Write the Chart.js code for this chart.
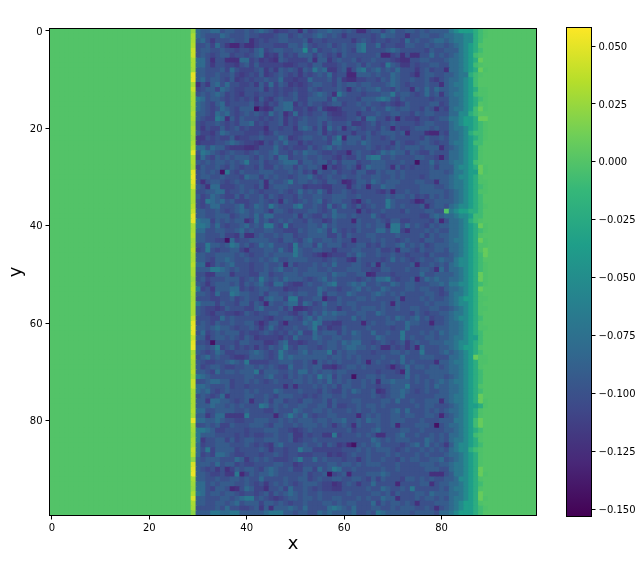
<!DOCTYPE html>
<html>
<head>
<meta charset="utf-8">
<title>heatmap</title>
<script src="https://cdn.jsdelivr.net/npm/chart.js@4"></script>
<style>
  body { margin: 0; background: #fff; }
  canvas { position: absolute; top: 0; }
  #heat { left: 0; }
  #bar { left: 560px; }
</style>
</head>
<body>
<canvas id="heat" width="560" height="561"></canvas>
<canvas id="bar" width="81" height="561"></canvas>
<script>
// tick labels
const xTicks = [0, 20, 40, 60, 80];
const yTicks = [0, 20, 40, 60, 80];
const barTicks = [-0.15, -0.125, -0.1, -0.075, -0.05, -0.025, 0, 0.025, 0.05];

// colour scale range and viridis stops
const vMin = -0.1532;
const vMax = 0.058;
const viridis = ["#440154", "#482878", "#3e4989", "#31688e", "#26828e", "#1f9e89", "#35b779", "#6ece58", "#b5de2b", "#fde725"];

// what each letter in the row strings below stands for
const levels = {
  "0": -0.143, "1": -0.13, "2": -0.123, "3": -0.116, "4": -0.109, "5": -0.101,
  "6": -0.092, "7": -0.081, "8": -0.069, "9": -0.053, a: -0.036, b: -0.022,
  c: -0.008, d: -0.002, e: 0, f: 0.008,
};

// column x=29, the bright stripe
const stripe = [
  0.022, 0.03, 0.03, 0.033, 0.04, 0.04, 0.03, 0.03, 0.028, 0.05,
  0.05, 0.03, 0.04, 0.03, 0.03, 0.03, 0.028, 0.033, 0.03, 0.025,
  0.03, 0.028, 0.025, 0.03, 0.035, 0.05, 0.03, 0.033, 0.03, 0.05,
  0.052, 0.05, 0.045, 0.03, 0.03, 0.03, 0.035, 0.04, 0.05, 0.05,
  0.03, 0.03, 0.033, 0.028, 0.03, 0.035, 0.03, 0.03, 0.035, 0.03,
  0.03, 0.025, 0.03, 0.033, 0.03, 0.028, 0.03, 0.03, 0.03, 0.04,
  0.05, 0.052, 0.05, 0.04, 0.05, 0.052, 0.03, 0.035, 0.03, 0.03,
  0.035, 0.03, 0.04, 0.04, 0.03, 0.03, 0.03, 0.03, 0.033, 0.03,
  0.05, 0.03, 0.028, 0.025, 0.03, 0.03, 0.038, 0.035, 0.022, 0.045,
  0.05, 0.052, 0.03, 0.026, 0.024, 0.032, 0.045, 0.03, 0.028, 0.02,
];

// columns x=30..59, one string per row
const rowsLeft = [
  "766775665565676534455264566766", "765557655565544456645655676565", "675355565562454556655563554555", "556475311422455544466575455645",
  "566556554554674566556695745565", "565456645545673436454666465453", "775255222774534326544446266356", "775355443564644444334554664445",
  "665556475444563536565365867335", "665565564345463456545354565745", "675665463454556557443447555646", "253675755445364746534345665546",
  "456647654455563545445446545556", "565676454355455545456445676528", "875665454545364356556446666475", "765467455556453546773546554566",
  "765457654666032366774453463223", "665476754565654756247454556433", "654487264655545456354565566544", "545565454667454556354665564655",
  "535446456454442554553676463756", "644357655544453465554455563545", "335454463445565557634566556468", "344455676544325465755354555477",
  "775766433322355575454446456756", "587654565545655675546576654454", "475465656665465647745565565543", "656566565685564556777466566464",
  "465565465455464465664656650534", "565650854655566655565645265564", "566556555476646565545667545655", "525665456555562655685665654665",
  "652774445655462566655534443355", "556677455656545556545756575355", "645765446465564654554655665566", "548767564445565452654565674566",
  "545775556745765865557855654745", "665565456765665366545556654575", "665566645665757755556365446576", "877465656624756456565546553465",
  "887575455675658854845556657565", "775566556756556655444656676475", "665556443622565565664556666446", "665544074556666554665467556656",
  "558665687564576755548566475666", "458545566425556657548655665535", "665566665654556566668655431344", "665466765565565675566665554565",
  "772465675554556556164555656575", "666887656554556567556556655655", "553366635554466455666566666576", "564555666456586565766654567565",
  "653566656465675477543356556785", "845366677454566555344555576554", "665475587665564665565665574665", "555445564565536766488455661446",
  "866646554664651655677476457556", "654434655544675556462234556553", "654355443465455665543564657676", "555447565555554355665467576665",
  "565465565566424664155576874433", "665676654556535754556556845344", "574565666454456545465744756664", "663566565465344443547555765566",
  "554055554665553346744345565665", "665684564545354656854665545665", "654576445556765458655675666846", "567565543346665458676666666566",
  "654455676584444556665565265656", "645665445566565654475565663324", "665475665666846665565775656656", "876555555566556755465656586746",
  "556776645565654565556656565756", "776555645545555555252555656564", "767545655565655576555655546544", "565457355566556546665545456655",
  "663776654562556466455466556465", "666766565655587565655665566464", "775566665565554465557655665655", "663577333385555515686575455665",
  "776676554455666556565666566566", "556564465556665466556566656535", "887644555545556665543456555555", "866655554545445565563354553384",
  "835566464566556665563455655555", "745566655565454367555565564653", "758466664555565355455866444444", "745477654455545565455444555343",
  "656665557635656544456855756555", "666575664544555566553455555665", "654535246566546765564466475687", "665445338146566765555564556045",
  "665565566565575555655664565566", "775656665565453565654566654423", "775466512576442556475565454433", "875665665455456465676565565555",
  "665556656788565434566566565566", "665566567566646656545565556656", "555565755445636266676575555787", "666887788666667888665665576766",
];

// columns x=60..81
const rowsMid = [
  "5652256646755665656666", "3555554576655255665567", "5535654554554756556776", "6557855745544665565665",
  "6547855556765555546556", "6555555611452522557565", "5564556555432255665556", "6556465548653354556655",
  "6257856756575553564552", "5116665655765542566556", "3224455465765565564356", "5665665556765455565526",
  "5256566755465526575766", "6555455566856654575636", "5554666787546555554555", "4556565545434655556645",
  "5555646557656655465254", "4553555655665546566555", "4556377553515443554566", "5633456455655554566555",
  "2565455465154456665655", "5535564566656155521154", "1666465545655555465565", "5665765555365445665455",
  "5555565454565666566625", "4156554576766465446555", "5446578855655556655415", "6664556665556550557566",
  "5652576665264545556466", "5546644656656555556665", "6556556655656555456666", "1246657656665556655266",
  "5256515576655555666556", "6545555435155655666665", "6556555556566564546565", "5531565558655541255666",
  "7546456558656555625665", "555154556555465556655e", "6565557545555555446767", "5516555654664455554615",
  "5556565662885756546566", "4546555775884255565655", "4655566555565555646566", "5515556565545655466556",
  "4556645465567565645666", "5566555644526654655665", "4657655655655455546555", "5326555545756545655676",
  "5566546165555561556565", "5666554466555655665275", "6556612555455555755666", "5554565778545561576766",
  "5676755655765665556676", "5567565576555665665546", "5765556765656555566545", "5556656555562555656556",
  "5665555565165555565666", "5565666565565566556655", "6556655765555546545566", "5575655556576567564556",
  "5555156556655766551556", "6555565555455755555666", "6576557556558555656576", "5566555765558565566566",
  "7677554565456356556667", "6776656522545351755566", "5665554555665655855567", "5656555565557555666555",
  "5556515655657565555266", "5665655554145756656656", "6555555455541755566666", "5505566565555756556665",
  "5655656266766656565676", "6655655455666855565766", "6576556235667654565566", "6555556545667555555666",
  "5566555566575565566626", "4556566565555556566555", "5656556555675755565656", "5551565655665665566515",
  "7556576655666555655566", "6526555655615556665056", "5645556755556655655556", "5556565225567556556565",
  "5555557656566655576565", "4105656755554567575653", "5556565666545655656565", "4565565556565556565556",
  "4553565565546566556675", "6656566655565555666566", "5565555565565555566655", "6155566676555555552225",
  "5566546465554665656556", "5653557555515555662566", "5555565576556585555565", "5655556656465556657666",
  "5556565576625556566565", "5665557465665652555666", "6575556655656665565256", "6675565876666656666577",
];

// columns x=82..89, the fade back to zero
const rowsEdge = [
  "89aaabcd", "78899bcd", "78899bce", "6789abde", "6689abce", "6789acde", "7789abfe", "7789acde", "7789abfd", "6788bcde",
  "7789acee", "7889acee", "7789abdd", "7889acdd", "7789abcd", "7789abed", "7889acfd", "7799bcee", "889aabff", "789aabcd",
  "7889abcd", "7789bccd", "7789abcd", "7889acce", "6789abde", "7789abde", "7789abde", "7889acde", "6899abfd", "6889aafd",
  "7899abde", "7889abdd", "7889abcd", "6789abdd", "6789abce", "6789abce", "7899abcd", "89aabbce", "7899acce", "7789bcde",
  "7789abfd", "7789abcd", "7789abde", "7889abfd", "7789abdd", "7789abdf", "6789abcf", "6899abce", "7899abcd", "7789abcd",
  "6789abfd", "7789abfd", "8899abcd", "7789abfe", "7889abde", "789aabdd", "7899abde", "6789abdd", "7889abde", "7899abce",
  "7789abde", "7789abdd", "7789abce", "7889aace", "7899abce", "789aabde", "6789abce", "7789afdd", "7889abdd", "7789abde",
  "7789abce", "6789abce", "7889abce", "7789abde", "7789abce", "7889abfe", "7889abfd", "6789aabd", "7789abde", "6789abde",
  "6889acfe", "7789acfe", "6789abce", "7789acde", "7889abde", "6899abce", "7899bcde", "7789abde", "6789abde", "7889abde",
  "7889abfe", "6889abfd", "6799abde", "7789abce", "7889abde", "7789abfe", "7889abfd", "789aabde", "789aabcd", "89aaabce",
];

function hexToRgb(h) {
  return [1, 3, 5].map((i) => parseInt(h.substr(i, 2), 16));
}

function colorFor(v) {
  const t = Math.min(1, Math.max(0, (v - vMin) / (vMax - vMin))) * (viridis.length - 1);
  const i = Math.min(viridis.length - 2, Math.floor(t));
  const a = hexToRgb(viridis[i]);
  const b = hexToRgb(viridis[i + 1]);
  const c = a.map((n, k) => Math.round(n + (b[k] - n) * (t - i)));
  return `rgb(${c[0]},${c[1]},${c[2]})`;
}

function cellValue(x, y) {
  if (x < 29 || x > 89) return 0;
  if (x === 29) return stripe[y];
  let ch;
  if (x < 60) ch = rowsLeft[y][x - 30];
  else if (x < 82) ch = rowsMid[y][x - 60];
  else ch = rowsEdge[y][x - 82];
  return levels[ch] ?? 0;
}

// squares are drawn oversize so no seams show; each one is covered on its
// right and bottom by the next, so nudge them back to the cell centre
const nudge = 0.12;
const cells = [];
for (let y = 0; y < 100; y++) {
  for (let x = 0; x < 100; x++) {
    cells.push({ x: x + nudge, y: y + nudge, v: cellValue(x, y) });
  }
}

// black frame round the plot, like a matplotlib axes
const frame = {
  id: "frame",
  afterDatasetsDraw(chart) {
    const { ctx, chartArea: a } = chart;
    ctx.save();
    ctx.strokeStyle = "#000";
    ctx.lineWidth = 1;
    ctx.strokeRect(a.left, a.top, a.right - a.left, a.bottom - a.top);
    ctx.restore();
  },
};

const tickFont = { family: "DejaVu Sans", size: 10 };
const titleFont = { family: "DejaVu Sans", size: 18 };
const tickGrid = { drawOnChartArea: false, color: "#000", tickLength: 4, tickWidth: 1 };

new Chart(document.getElementById("heat"), {
  type: "scatter",
  data: {
    datasets: [
      {
        data: cells,
        pointStyle: "rect",
        pointRadius: 4.3,
        pointHoverRadius: 4.3,
        pointBorderWidth: 0,
        pointBackgroundColor: (ctx) => colorFor(ctx.raw.v),
      },
    ],
  },
  options: {
    responsive: false,
    animation: false,
    events: [],
    layout: { padding: { left: 0, top: 28.5, right: 23.5, bottom: 0 } },
    plugins: { legend: { display: false }, tooltip: { enabled: false } },
    scales: {
      x: {
        type: "linear",
        min: -0.5,
        max: 99.5,
        grid: tickGrid,
        border: { color: "#000" },
        afterBuildTicks: (s) => { s.ticks = xTicks.map((value) => ({ value })); },
        afterFit: (s) => { s.height = 45.5; },
        ticks: { color: "#000", font: tickFont, padding: 3, maxRotation: 0 },
        title: { display: true, text: "x", color: "#000", font: titleFont, padding: { top: 0, bottom: 6 } },
      },
      y: {
        type: "linear",
        reverse: true,
        min: -0.5,
        max: 99.5,
        grid: tickGrid,
        border: { color: "#000" },
        afterBuildTicks: (s) => { s.ticks = yTicks.map((value) => ({ value })); },
        afterFit: (s) => { s.width = 49.5; },
        ticks: { color: "#000", font: tickFont, padding: 3, labelOffset: 1 },
        title: { display: true, text: "y", color: "#000", font: titleFont, padding: { top: 6, bottom: 0 } },
      },
    },
  },
  plugins: [frame],
});

// colour bar: one floating bar filled with the same stops
new Chart(document.getElementById("bar"), {
  type: "bar",
  data: {
    labels: [""],
    datasets: [
      {
        data: [[vMin, vMax]],
        barPercentage: 1,
        categoryPercentage: 1,
        backgroundColor: (ctx) => {
          const a = ctx.chart.chartArea;
          if (!a) return viridis[0];
          const g = ctx.chart.ctx.createLinearGradient(0, a.bottom, 0, a.top);
          viridis.forEach((c, i) => g.addColorStop(i / (viridis.length - 1), c));
          return g;
        },
      },
    ],
  },
  options: {
    responsive: false,
    animation: false,
    events: [],
    layout: { padding: { left: 6.5, top: 27.5, right: 0, bottom: 44.5 } },
    plugins: { legend: { display: false }, tooltip: { enabled: false } },
    scales: {
      x: { display: false },
      y: {
        position: "right",
        min: vMin,
        max: vMax,
        grid: tickGrid,
        border: { color: "#000" },
        afterBuildTicks: (s) => { s.ticks = barTicks.map((value) => ({ value })); },
        afterFit: (s) => { s.width = 49.5; },
        ticks: {
          color: "#000",
          font: tickFont,
          padding: 3,
          labelOffset: 1,
          callback: (v) => v.toFixed(3).replace("-", "\u2212"),
        },
      },
    },
  },
  plugins: [frame],
});
</script>
</body>
</html>
